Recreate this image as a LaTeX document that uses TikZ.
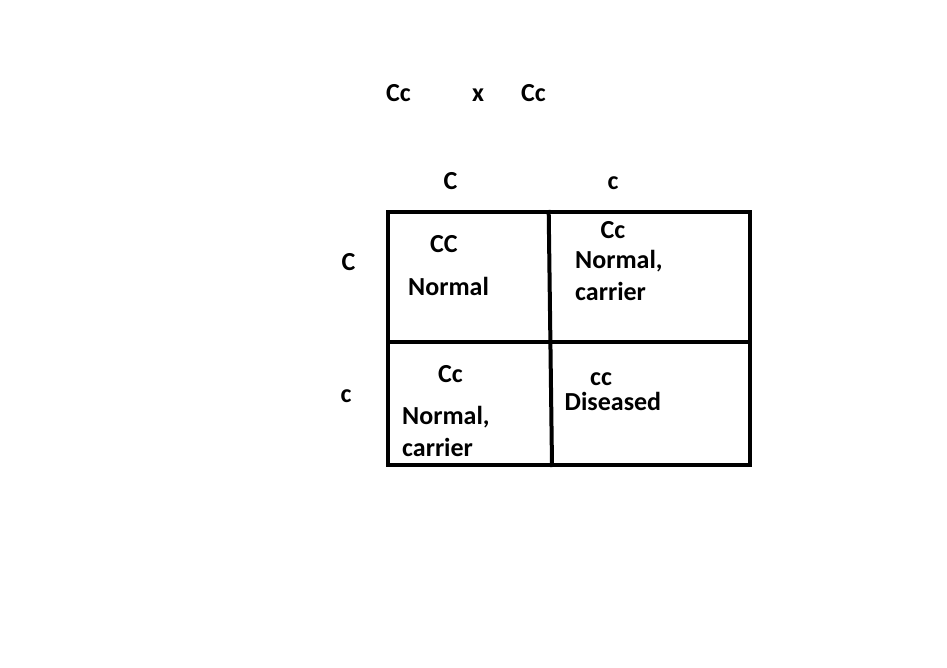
\documentclass[tikz,border=0pt]{standalone}
\usepackage{fontspec}
\setmainfont{Carlito}
\usetikzlibrary{positioning}

\begin{document}
\begin{tikzpicture}[x=1pt, y=-1pt,
    allele/.style={inner sep=0pt, anchor=base west, font=\fontsize{26}{32}\selectfont\bfseries},
    cell/.style={allele, align=left},
    grid/.style={line width=4pt, line cap=rect}]
    \useasboundingbox (0,0) rectangle (947,668);

    % parents
    \node[allele] (p1) at (386,101.7) {Cc};
    \node[allele] (cross) at (472,101.7) {x};
    \node[allele] (p2) at (521,101.7) {Cc};

    % gametes
    \node[allele] (gC) at (443.5,190) {C};
    \node[allele] (gc) at (607.5,190) {c};
    \node[allele] (rC) at (341.5,270) {C};
    \node[allele] (rc) at (340.5,402) {c};

    % square
    \coordinate (nw) at (387.5,212);
    \coordinate (ne) at (750,212);
    \coordinate (sw) at (387.5,465);
    \coordinate (se) at (750,465);
    \coordinate (mt) at (548.7,212);
    \coordinate (mb) at (552,465);
    \coordinate (ml) at (387.5,342);
    \coordinate (mr) at (750,342);

    \draw[grid] (nw) -- (ne) -- (se) -- (sw) -- cycle;
    \draw[grid] (mt) -- (mb);
    \draw[grid] (ml) -- (mr);

    % offspring (multi-line cells sit on their last line)
    \node[allele] (CC) at (430,252.7) {CC};
    \node[allele] (CCtxt) at (408,295) {Normal};
    \node[allele] (Cc1) at (600.5,239) {Cc};
    \node[cell] (Cc1txt) at (575,300.7) {Normal,\\carrier};
    \node[allele] (Cc2) at (438,382) {Cc};
    \node[cell] (Cc2txt) at (402,456.7) {Normal,\\carrier};
    \node[allele] (cc) at (590,385) {cc};
    \node[allele] (cctxt) at (564.5,410) {Diseased};
\end{tikzpicture}
\end{document}
